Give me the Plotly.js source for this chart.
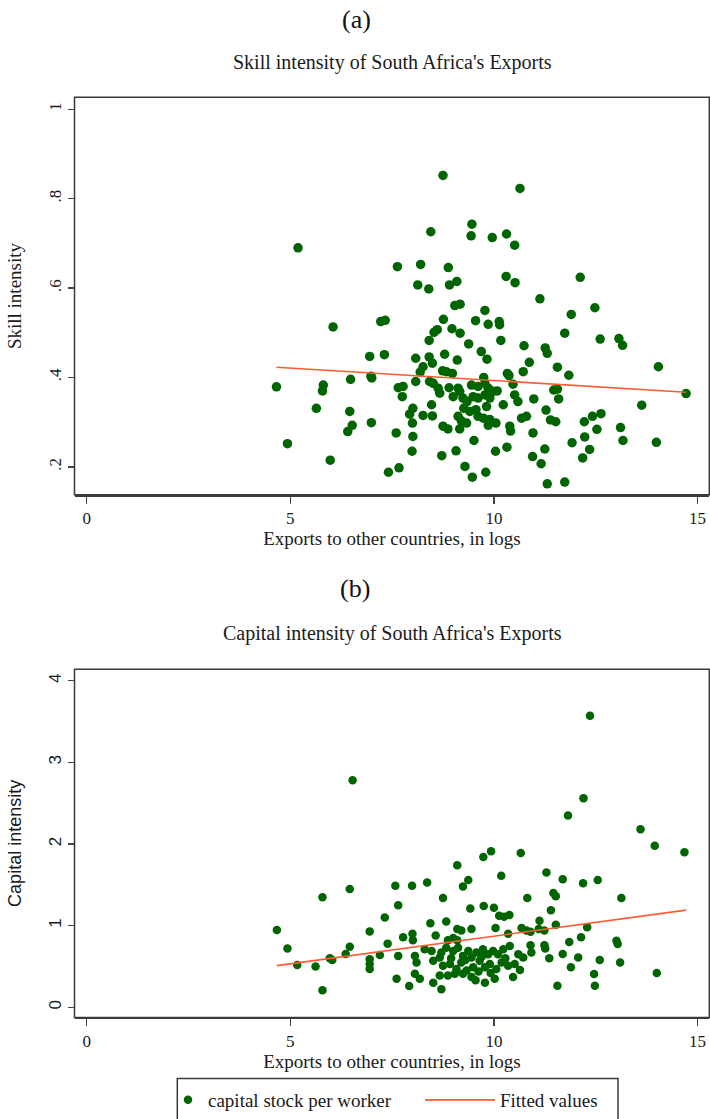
<!DOCTYPE html>
<html><head><meta charset="utf-8">
<script src="https://cdn.plot.ly/plotly-3.0.1.min.js"></script>
<style>html,body{margin:0;padding:0;background:#fff;}#chart{width:710px;height:1119px;}</style>
</head><body><div id="chart"></div>
<script>
// ---- Panel (a): skill intensity ----
const skillX = [5.19,8.75,10.64,8.45,9.46,9.44,9.96,10.31,10.51,7.63,8.20,8.88,8.13,8.40,8.91,9.09,10.30,10.52,12.12,11.13,9.04,9.17,9.78,12.48,11.90,6.05,7.22,7.33,8.76,9.55,9.86,10.13,10.14,8.61,8.97,9.17,8.53,11.74,12.61,13.07,13.16,8.41,9.38,10.17,10.74,
11.26,11.31,11.56,14.04,11.84,11.47,11.56,11.59,14.72,13.63,11.28,11.39,11.52,12.42,12.63,12.22,12.53,13.11,11.92,12.23,13.17,13.99,
6.95,7.31,6.48,6.98,7.00,4.66,5.81,5.79,5.64,6.46,6.99,6.52,6.41,4.93,
7.99,9.07,10.04,10.32,11.25,12.35,5.98,8.72,10.95,12.18,11.16,9.29,7.41,7.67,9.47,9.80,11.31,11.74,
8.08,8.41,8.49,8.79,9.10,9.69,9.83,10.87,8.26,8.19,8.74,8.83,8.98,10.33,10.37,10.72,8.08,8.42,8.51,9.75,7.65,7.77,7.75,8.63,8.67,8.90,9.12,9.16,9.45,9.61,9.78,9.86,9.98,10.08,10.47,10.51,10.59,9.00,9.24,9.34,9.49,9.61,9.78,9.90,9.82,8.47,10.23,10.98,8.01,7.93,8.26,8.49,8.00,9.26,9.41,9.56,9.12,9.20,9.33,9.61,9.74,9.90,10.05,9.86,10.39,10.41,10.68,10.80,8.75,8.87,9.16,7.60,8.01,9.51,10.96];
const skillY = [0.690,0.852,0.823,0.726,0.743,0.717,0.713,0.721,0.696,0.648,0.653,0.646,0.607,0.598,0.607,0.615,0.626,0.612,0.624,0.576,0.561,0.564,0.550,0.556,0.541,0.513,0.525,0.528,0.530,0.527,0.519,0.525,0.518,0.507,0.509,0.499,0.501,0.499,0.486,0.487,0.472,0.483,0.475,0.483,0.471,
0.466,0.454,0.423,0.424,0.405,0.372,0.374,0.352,0.364,0.338,0.327,0.305,0.301,0.313,0.319,0.301,0.284,0.288,0.254,0.267,0.259,0.255,
0.447,0.451,0.396,0.403,0.399,0.379,0.383,0.370,0.331,0.324,0.299,0.293,0.279,0.252,
0.235,0.236,0.235,0.244,0.240,0.239,0.215,0.225,0.223,0.220,0.207,0.201,0.188,0.198,0.177,0.188,0.162,0.166,
0.443,0.446,0.432,0.452,0.439,0.458,0.441,0.434,0.424,0.412,0.415,0.413,0.409,0.409,0.404,0.413,0.391,0.391,0.387,0.400,0.377,0.380,0.357,0.376,0.365,0.377,0.376,0.369,0.383,0.380,0.387,0.376,0.369,0.370,0.385,0.361,0.346,0.357,0.354,0.346,0.357,0.354,0.361,0.354,0.335,0.339,0.339,0.352,0.331,0.318,0.315,0.314,0.298,0.331,0.324,0.328,0.313,0.303,0.298,0.313,0.309,0.306,0.298,0.293,0.291,0.280,0.309,0.313,0.291,0.285,0.285,0.276,0.268,0.259,0.276];
const skillFitX = [4.66, 14.72];
const skillFitY = [0.423, 0.367];

// ---- Panel (b): capital intensity ----
const capX = [6.53,12.36,12.20,11.82,13.60,13.95,14.68,9.10,9.74,9.93,10.66,10.18,11.29,11.69,12.19,12.55,
4.67,4.93,5.17,5.62,5.79,5.79,5.97,6.03,6.36,6.46,6.46,6.95,6.95,6.95,6.95,7.20,7.32,7.39,7.58,7.65,7.65,7.61,7.99,8.36,8.75,9.24,9.37,9.42,9.75,
10.82,11.46,11.52,13.13,10.00,10.13,10.25,10.38,11.40,10.90,11.12,11.10,11.24,11.52,12.29,12.14,11.85,13.01,13.04,10.90,11.24,11.26,10.92,11.36,11.69,12.07,12.60,13.10,11.89,12.46,12.48,11.56,14.00,10.64,
8.44,8.83,9.10,9.20,9.45,10.04,10.35,10.68,10.80,7.77,8.00,8.01,8.57,8.87,9.00,9.10,8.30,8.47,8.06,8.10,
8.71,8.83,9.00,9.12,9.24,9.37,9.45,9.57,9.73,9.86,9.98,10.10,10.23,10.39,10.60,10.72,
8.51,8.67,8.75,8.92,9.08,9.20,9.33,9.49,9.65,9.78,9.90,10.06,10.19,10.35,10.51,
8.06,8.18,7.92,8.51,8.67,8.87,9.04,9.24,9.45,9.55,9.78,10.02,10.47,8.71,
9.30,9.62,9.92,10.28,8.95,9.70];
const capY = [2.78,3.57,2.56,2.35,2.18,1.98,1.90,1.74,1.84,1.91,1.89,1.61,1.65,1.57,1.52,1.56,
0.947,0.72,0.518,0.50,1.347,0.21,0.60,0.58,0.652,1.45,0.742,0.93,0.59,0.53,0.47,0.64,1.10,0.78,1.49,1.25,0.63,0.35,1.49,1.53,1.34,1.48,1.56,1.21,1.24,
1.34,1.40,1.36,1.34,1.22,1.12,1.11,1.13,1.19,0.926,1.06,0.96,0.94,1.01,0.98,0.857,0.80,0.816,0.776,0.76,0.76,0.72,0.672,0.60,0.652,0.61,0.58,0.55,0.49,0.407,0.265,0.265,0.42,0.456,
1.03,1.05,0.96,0.94,0.96,0.97,0.90,0.97,0.94,0.857,0.90,0.82,0.88,0.82,0.85,0.82,0.71,0.69,0.63,0.55,
0.67,0.73,0.69,0.73,0.63,0.69,0.61,0.67,0.71,0.65,0.69,0.65,0.71,0.75,0.65,0.61,
0.57,0.61,0.51,0.53,0.47,0.55,0.45,0.49,0.57,0.49,0.53,0.47,0.55,0.51,0.53,
0.41,0.35,0.26,0.30,0.39,0.39,0.41,0.41,0.37,0.33,0.30,0.35,0.37,0.22,
0.58,0.44,0.42,0.60,0.60,0.62];
const capFitX = [4.67, 14.72];
const capFitY = [0.51, 1.19];

// ---- ticks and text ----
const xTickVals = [0, 5, 10, 15];
const xTickText = ['0', '5', '10', '15'];
const skillTickVals = [0.2, 0.4, 0.6, 0.8, 1];
const skillTickText = ['.2', '.4', '.6', '.8', '1'];
const capTickVals = [0, 1, 2, 3, 4];
const capTickText = ['0', '1', '2', '3', '4'];
const panelLabels = ['(a)', '(b)'];
const panelTitles = ["Skill intensity of South Africa's Exports", "Capital intensity of South Africa's Exports"];
const xTitle = 'Exports to other countries, in logs';
const seriesNames = ['capital stock per worker', 'Fitted values'];

const GREEN = '#006400';
const ORANGE = '#ff5a32';
const TXT = '#1a1a1a';
const SERIF = 'Liberation Serif, Times New Roman, serif';
const SANS = 'Liberation Sans, Arial, sans-serif';
const W = 710, H = 1119;
const px = v => v / W;
const py = v => 1 - v / H;

const traces = [
  {x: skillX, y: skillY, xaxis: 'x', yaxis: 'y', type: 'scatter', mode: 'markers', name: 'skill intensity',
   marker: {color: GREEN, size: 9.5}, showlegend: false, cliponaxis: false},
  {x: skillFitX, y: skillFitY, xaxis: 'x', yaxis: 'y', type: 'scatter', mode: 'lines', name: 'Fitted values',
   line: {color: ORANGE, width: 1.6}, showlegend: false},
  {x: capX, y: capY, xaxis: 'x2', yaxis: 'y2', type: 'scatter', mode: 'markers', name: seriesNames[0],
   marker: {color: GREEN, size: 8.5}, legend: 'legend'},
  {x: capFitX, y: capFitY, xaxis: 'x2', yaxis: 'y2', type: 'scatter', mode: 'lines', name: seriesNames[1],
   line: {color: ORANGE, width: 1.6}, legend: 'legend2'}
];

const xBase = {
  tickvals: xTickVals, ticktext: xTickText, ticks: 'outside', ticklen: 7, tickwidth: 1.3, tickcolor: '#444',
  showline: true, linecolor: '#3a3a3a', linewidth: 2, showgrid: false, zeroline: false,
  tickfont: {family: SERIF, size: 17, color: TXT},
  title: {text: xTitle, font: {family: SERIF, size: 19, color: TXT}, standoff: 0}
};
const yBase = {
  tickangle: -90, ticks: 'outside', ticklen: 6, tickwidth: 1.3, tickcolor: '#444',
  showline: false, showgrid: false, zeroline: false
};

const layout = {
  width: W, height: H, margin: {l: 0, r: 0, t: 0, b: 0},
  paper_bgcolor: '#ffffff', plot_bgcolor: '#ffffff',
  font: {family: SERIF, color: TXT, size: 17},
  showlegend: true,
  xaxis: Object.assign({}, xBase, {domain: [px(74.5), px(709.3)], range: [-0.30, 15.29], anchor: 'y'}),
  yaxis: Object.assign({}, yBase, {domain: [py(497), py(97.7)], range: [0.1376, 1.0269], anchor: 'x',
    tickvals: skillTickVals, ticktext: skillTickText,
    tickfont: {family: SERIF, size: 17, color: TXT},
    title: {text: 'Skill intensity', font: {family: SERIF, size: 19, color: TXT}, standoff: 19}}),
  xaxis2: Object.assign({}, xBase, {domain: [px(74.5), px(709.3)], range: [-0.30, 15.29], anchor: 'y2'}),
  yaxis2: Object.assign({}, yBase, {domain: [py(1022), py(672.3)], range: [-0.124, 4.14], anchor: 'x2',
    tickvals: capTickVals, ticktext: capTickText,
    tickfont: {family: SANS, size: 17, color: TXT},
    title: {text: 'Capital intensity', font: {family: SANS, size: 18, color: TXT}, standoff: 19}}),
  shapes: [
    {type: 'rect', xref: 'x domain', yref: 'y domain', x0: 0, x1: 1, y0: 0, y1: 1, line: {color: '#3a3a3a', width: 1.5}},
    {type: 'rect', xref: 'x2 domain', yref: 'y2 domain', x0: 0, x1: 1, y0: 0, y1: 1, line: {color: '#3a3a3a', width: 1.5}},
    {type: 'rect', xref: 'paper', yref: 'paper', x0: px(177.3), x1: px(618), y0: -0.02, y1: py(1083.3), line: {color: '#3a3a3a', width: 1.5}}
  ],
  annotations: [
    {text: panelLabels[0], xref: 'paper', yref: 'paper', x: px(356), y: py(20), xanchor: 'center', yanchor: 'middle', showarrow: false, font: {family: SERIF, size: 26, color: '#111'}},
    {text: panelTitles[0], xref: 'paper', yref: 'paper', x: px(392), y: py(62.7), xanchor: 'center', yanchor: 'middle', showarrow: false, font: {family: SERIF, size: 20, color: TXT}},
    {text: panelLabels[1], xref: 'paper', yref: 'paper', x: px(355), y: py(591), xanchor: 'center', yanchor: 'middle', showarrow: false, font: {family: SERIF, size: 26, color: '#111'}},
    {text: panelTitles[1], xref: 'paper', yref: 'paper', x: px(392), y: py(636), xanchor: 'center', yanchor: 'middle', showarrow: false, font: {family: SERIF, size: 20, color: TXT}}
  ],
  legend: {orientation: 'h', x: px(168), xanchor: 'left', y: py(1086), yanchor: 'top', bgcolor: 'rgba(0,0,0,0)', borderwidth: 0,
    font: {family: SERIF, size: 19, color: TXT}, itemwidth: 30},
  legend2: {orientation: 'h', x: px(420), xanchor: 'left', y: py(1086), yanchor: 'top', bgcolor: 'rgba(0,0,0,0)', borderwidth: 0,
    font: {family: SERIF, size: 19, color: TXT}, itemwidth: 70}
};

Plotly.newPlot('chart', traces, layout, {staticPlot: true, displayModeBar: false});
</script></body></html>
